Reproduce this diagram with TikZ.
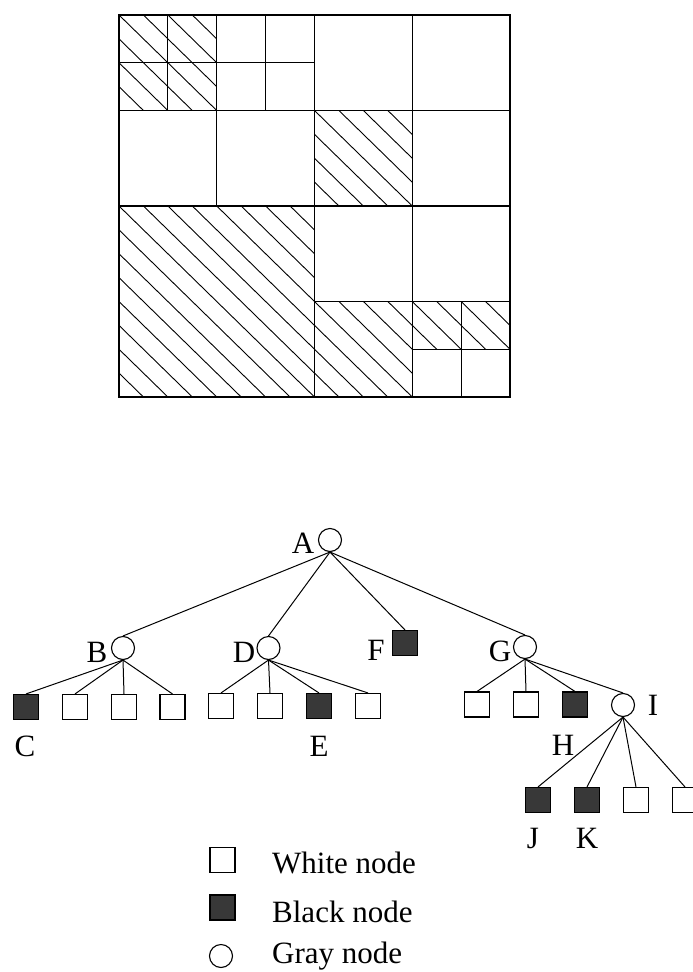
\documentclass[tikz,border=0pt]{standalone}
\usepackage{fontspec}
\setmainfont{Liberation Serif}
\newcommand\hatchrect[4]{%
  \begin{scope}
    \clip (#1,#2) rectangle ++(#3,#4);
    \foreach \k in {-10,...,10} \draw[hatchline] ({#1+\k*0.5},#2) -- ++(10,10);
  \end{scope}}
\begin{document}
\begin{tikzpicture}[x=1pt, y={(0pt,-1pt)},
  hatchline/.style={line width=0.9pt},
  gridline/.style={line width=1.1pt},
  wsq/.style={draw, line width=1.1pt, minimum width=25pt, minimum height=25pt, inner sep=0pt, fill=white},
  bsq/.style={wsq, fill=black!78},
  gcir/.style={draw, circle, line width=1.1pt, minimum size=23pt, inner sep=0pt, fill=white},
  lbl/.style={inner sep=0pt, font=\fontsize{31}{36}\selectfont},
  edge/.style={line width=1pt}]
\useasboundingbox (0,0) rectangle (693,972);

% ---------- quadtree grid ----------
\begin{scope}[shift={(119,15)}, x=48.875pt, y={(0pt,-47.75pt)}]
  \hatchrect{0}{0}{1}{1}
  \hatchrect{1}{0}{1}{1}
  \hatchrect{0}{1}{1}{1}
  \hatchrect{1}{1}{1}{1}
  \hatchrect{4}{2}{2}{2}
  \hatchrect{0}{4}{4}{4}
  \hatchrect{4}{6}{2}{2}
  \hatchrect{6}{6}{1}{1}
  \hatchrect{7}{6}{1}{1}
  \begin{scope}[gridline]
    \draw (0,0) rectangle (8,8);
    \draw (4,0) -- (4,8);  \draw (0,4) -- (8,4);
    \draw (2,0) -- (2,4);  \draw (0,2) -- (4,2);
    \draw (1,0) -- (1,2);  \draw (0,1) -- (2,1);
    \draw (3,0) -- (3,2);  \draw (2,1) -- (4,1);
    \draw (6,0) -- (6,4);  \draw (4,2) -- (8,2);
    \draw (6,4) -- (6,8);  \draw (4,6) -- (8,6);
    \draw (7,6) -- (7,8);  \draw (6,7) -- (8,7);
  \end{scope}
\end{scope}

% ---------- tree ----------
\node[gcir] (A) at (330,540) {};
\node[lbl] (Al) at (303,543) {A};

\node[gcir] (B) at (123,648) {};
\node[lbl] (Bl) at (97,652) {B};
\node[gcir] (D) at (268.5,648) {};
\node[lbl] (Dl) at (244,652) {D};
\node[bsq] (F) at (405,643) {};
\node[lbl] (Fl) at (376,650) {F};
\node[gcir] (G) at (525,647) {};
\node[lbl] (Gl) at (500,651) {G};

\node[bsq] (B1) at (26,707) {};
\node[wsq] (B2) at (75,707) {};
\node[wsq] (B3) at (124,707) {};
\node[wsq] (B4) at (172.5,707) {};
\node[lbl] (Cl) at (25,746) {C};

\node[wsq] (D1) at (221,706) {};
\node[wsq] (D2) at (270,706) {};
\node[bsq] (D3) at (319,706) {};
\node[wsq] (D4) at (368,706) {};
\node[lbl] (El) at (319,746) {E};

\node[wsq] (G1) at (477,704.5) {};
\node[wsq] (G2) at (526,704.5) {};
\node[bsq] (G3) at (575,704.5) {};
\node[gcir] (I) at (623,705) {};
\node[lbl] (Il) at (653,705) {I};
\node[lbl] (Hl) at (563,745) {H};

\node[bsq] (I1) at (538,800) {};
\node[bsq] (I2) at (587,800) {};
\node[wsq] (I3) at (636,800) {};
\node[wsq] (I4) at (685,800) {};
\node[lbl] (Jl) at (533,838) {J};
\node[lbl] (Kl) at (587,838) {K};

\foreach \c in {B,D,F,G} \draw[edge] (A.south) -- (\c.north);
\foreach \c in {B1,B2,B3,B4} \draw[edge] (B.south) -- (\c.north);
\foreach \c in {D1,D2,D3,D4} \draw[edge] (D.south) -- (\c.north);
\foreach \c in {G1,G2,G3,I} \draw[edge] (G.south) -- (\c.north);
\foreach \c in {I1,I2,I3,I4} \draw[edge] (I.south) -- (\c.north);

% ---------- legend ----------
\node[wsq] (LW) at (222.5,860) {};
\node[bsq] (LB) at (222.5,907.5) {};
\node[gcir] (LG) at (221,956) {};
\node[lbl, anchor=base west] (LWt) at (272,873) {White node};
\node[lbl, anchor=base west] (LBt) at (272,922) {Black node};
\node[lbl, anchor=base west] (LGt) at (272,963) {Gray node};
\end{tikzpicture}
\end{document}
